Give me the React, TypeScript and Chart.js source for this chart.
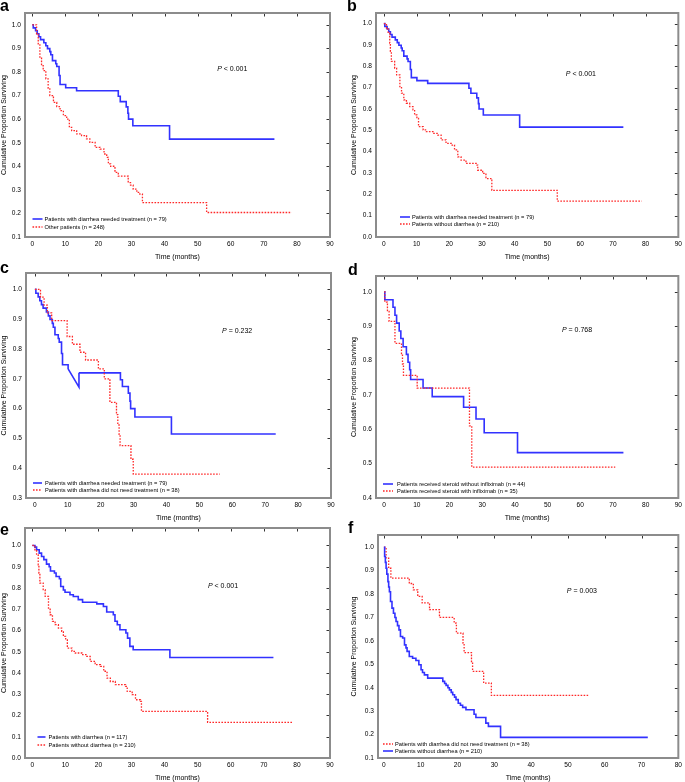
import React, { useEffect, useRef } from 'react';
import { Chart, registerables } from 'chart.js';

Chart.register(...registerables);

const FONT = '"Liberation Sans", Arial, Helvetica, sans-serif';

// ---------------- tick labels ----------------
const X_TICKS_90 = [0, 10, 20, 30, 40, 50, 60, 70, 80, 90];
const X_TICKS_80 = [0, 10, 20, 30, 40, 50, 60, 70, 80];
const Y_TICKS_01 = [0.1, 0.2, 0.3, 0.4, 0.5, 0.6, 0.7, 0.8, 0.9, 1.0];
const Y_TICKS_00 = [0.0, 0.1, 0.2, 0.3, 0.4, 0.5, 0.6, 0.7, 0.8, 0.9, 1.0];
const Y_TICKS_03 = [0.3, 0.4, 0.5, 0.6, 0.7, 0.8, 0.9, 1.0];
const Y_TICKS_04 = [0.4, 0.5, 0.6, 0.7, 0.8, 0.9, 1.0];

// ---------------- series (time in months, cumulative proportion surviving) ----------------
// Patients with diarrhea needed treatment (n = 79)
const NEEDED_T = [0, 0.3, 1.0, 1.5, 2.0, 2.5, 3.5, 4.1, 4.6, 5.3, 5.6, 6.1, 7.1, 7.4, 8.1, 8.4, 10.1, 13.4, 26.0, 26.6, 28.4, 28.9, 29.1, 30.4, 41.5, 73.2];
const NEEDED_S = [1.0, 0.987, 0.975, 0.962, 0.949, 0.937, 0.924, 0.911, 0.899, 0.886, 0.873, 0.848, 0.835, 0.823, 0.785, 0.747, 0.733, 0.72, 0.697, 0.674, 0.652, 0.625, 0.6, 0.572, 0.515, 0.515];
// panel c: drawn artefact of the same curve between 10 and 13.4 months
const C_DIAG_T = [10.1, 13.4, 13.4];
const C_DIAG_S = [0.733, 0.672, 0.72];

// Other patients (n = 248)
const OTHER_T = [0, 1.3, 1.8, 2.3, 2.8, 3.3, 4.1, 4.8, 5.3, 6.4, 7.4, 8.4, 9.4, 10.4, 11.2, 11.9, 13.4, 14.9, 16.4, 17.4, 19.0, 20.5, 21.7, 22.5, 23.0, 23.7, 25.0, 26.0, 29.0, 29.7, 30.5, 31.6, 32.5, 33.3, 52.7, 78.4];
const OTHER_S = [1.0, 0.962, 0.919, 0.863, 0.827, 0.806, 0.771, 0.732, 0.7, 0.671, 0.653, 0.636, 0.615, 0.6, 0.565, 0.551, 0.537, 0.53, 0.516, 0.501, 0.48, 0.473, 0.452, 0.438, 0.41, 0.4, 0.374, 0.358, 0.331, 0.32, 0.303, 0.289, 0.282, 0.246, 0.204, 0.204];

// Patients without diarrhea (n = 210)  (panels b, e)
const NODIAR_T = [0, 0.8, 1.3, 1.8, 2.0, 2.3, 3.3, 3.9, 4.9, 5.4, 6.1, 6.9, 7.9, 8.9, 9.4, 10.1, 10.6, 12.0, 13.0, 15.0, 16.5, 17.5, 19.0, 20.6, 21.6, 22.6, 23.6, 25.1, 28.2, 28.7, 30.2, 31.2, 32.7, 33.0, 53.0, 78.8];
const NODIAR_S = [1.0, 0.975, 0.956, 0.909, 0.87, 0.823, 0.792, 0.76, 0.705, 0.674, 0.643, 0.627, 0.611, 0.596, 0.572, 0.556, 0.517, 0.502, 0.494, 0.486, 0.478, 0.455, 0.439, 0.431, 0.408, 0.376, 0.36, 0.345, 0.337, 0.313, 0.298, 0.274, 0.266, 0.219, 0.168, 0.168];

// Patients with diarrhea did not need treatment (n = 38), panel c
const C_NOTNEEDED_T = [0, 1.7, 2.8, 3.8, 5.1, 9.8, 11.4, 13.7, 15.4, 19.3, 21.1, 22.8, 24.8, 25.2, 25.6, 25.9, 29.2, 29.9, 56.2];
const C_NOTNEEDED_S = [1.0, 0.974, 0.947, 0.921, 0.895, 0.842, 0.816, 0.789, 0.763, 0.733, 0.7, 0.621, 0.58, 0.545, 0.514, 0.476, 0.43, 0.38, 0.38];

// Patients received steroid without infliximab (n = 44)
const STEROID_T = [0, 0.2, 2.7, 3.3, 3.8, 4.6, 5.1, 5.8, 6.8, 7.3, 7.8, 8.1, 11.9, 14.7, 24.3, 28.1, 30.6, 40.8, 73.2];
const STEROID_S = [1.0, 0.977, 0.955, 0.932, 0.909, 0.886, 0.864, 0.84, 0.818, 0.795, 0.773, 0.745, 0.72, 0.695, 0.664, 0.63, 0.59, 0.532, 0.532];
// Patients received steroid with infliximab (n = 35)
const INFLIX_T = [0, 0.2, 1.0, 1.5, 3.3, 5.3, 5.6, 5.9, 10.1, 26.1, 26.8, 70.7];
const INFLIX_S = [1.0, 0.97, 0.943, 0.914, 0.85, 0.82, 0.79, 0.757, 0.72, 0.61, 0.49, 0.49];

// Patients with diarrhea (n = 117)
const DIAR_T = [0, 0.8, 1.3, 2.1, 2.8, 3.5, 4.3, 5.1, 5.5, 6.7, 7.2, 8.2, 8.6, 9.4, 9.9, 11.4, 12.4, 13.9, 15.2, 19.5, 21.5, 22.5, 24.5, 25.0, 25.7, 26.5, 28.3, 28.8, 29.5, 30.5, 41.6, 72.9];
const DIAR_S = [1.0, 0.992, 0.98, 0.964, 0.948, 0.933, 0.912, 0.9, 0.88, 0.87, 0.854, 0.843, 0.807, 0.79, 0.78, 0.768, 0.76, 0.745, 0.733, 0.725, 0.713, 0.687, 0.674, 0.643, 0.627, 0.603, 0.588, 0.564, 0.525, 0.509, 0.473, 0.473];

// panel f
const F_NOTNEEDED_T = [0, 0.6, 1.3, 1.9, 6.9, 8.0, 9.2, 10.4, 12.4, 15.1, 19.1, 19.7, 21.5, 21.8, 23.8, 24.1, 27.1, 29.2, 55.5];
const F_NOTNEEDED_S = [1.0, 0.953, 0.91, 0.868, 0.845, 0.818, 0.79, 0.762, 0.733, 0.7, 0.676, 0.633, 0.59, 0.55, 0.512, 0.47, 0.42, 0.367, 0.367];
const F_NODIAR_T = [0, 0.2, 0.4, 0.6, 0.8, 1.1, 1.3, 1.5, 1.8, 2.2, 2.6, 3.0, 3.3, 3.7, 4.1, 4.5, 5.1, 5.6, 6.0, 6.3, 6.9, 7.8, 8.7, 9.5, 10.1, 10.5, 11.0, 11.9, 16.0, 16.5, 16.9, 17.4, 17.8, 18.3, 18.7, 19.2, 19.6, 20.2, 20.8, 21.4, 22.3, 24.5, 25.0, 27.7, 28.4, 31.7, 71.7];
const F_NODIAR_S = [1.0, 0.96, 0.935, 0.91, 0.885, 0.853, 0.83, 0.81, 0.768, 0.74, 0.718, 0.7, 0.683, 0.665, 0.647, 0.619, 0.612, 0.583, 0.57, 0.555, 0.533, 0.526, 0.516, 0.498, 0.477, 0.465, 0.455, 0.441, 0.427, 0.418, 0.41, 0.4, 0.391, 0.38, 0.37, 0.36, 0.349, 0.334, 0.325, 0.316, 0.306, 0.287, 0.273, 0.249, 0.235, 0.188, 0.188];

// ---------------- texts ----------------
const LBL_NEEDED = 'Patients with diarrhea needed treatment (n = 79)';
const LBL_OTHER = 'Other patients (n = 248)';
const LBL_NODIAR = 'Patients without diarrhea (n = 210)';
const LBL_NOTNEEDED = 'Patients with diarrhea did not need treatment (n = 38)';
const LBL_STEROID = 'Patients received steroid without infliximab (n = 44)';
const LBL_INFLIX = 'Patients received steroid with infliximab (n = 35)';
const LBL_DIAR = 'Patients with diarrhea (n = 117)';
const P_VALUES = ['< 0.001', '< 0.001', '= 0.232', '= 0.768', '< 0.001', '= 0.003'];
const Y_TITLE = 'Cumulative Proportion Surviving';
const X_TITLE = 'Time (months)';

// ---------------- styles ----------------
type Kind = 'blue' | 'red';
function lineStyle(kind: Kind) {
  return kind === 'blue'
    ? { borderColor: 'rgb(50,50,255)', borderWidth: 1.6, borderDash: [] as number[] }
    : { borderColor: 'rgb(255,40,40)', borderWidth: 1.3, borderDash: [1.6, 1.4] };
}

type Series = { t: number[]; s: number[]; kind: Kind; stepped?: boolean };
type Panel = {
  id: string;
  cx: number; cw: number;
  frame: { left: number; right: number; top: number; bottom: number };
  x: [number, number]; y: [number, number];
  xTicks: number[]; yTicks: number[];
  yTitlePad: number;
  p: { text: string; x: number; y: number };
  leg: { x1: number; x2: number; tx: number; dy: number[] };
  legendItems: { label: string; kind: Kind }[];
  series: Series[];
  letter: [number, number];
};

const PAD_TOP = 8;
const X_AXIS_H = 28;

const cPart1 = NEEDED_T.map((t, i) => i).filter((i) => NEEDED_T[i] <= 10.1);
const cPart3 = NEEDED_T.map((t, i) => i).filter((i) => NEEDED_T[i] >= 13.4);

const PANELS: Panel[] = [
  {
    id: 'a', cx: 0, cw: 340,
    frame: { left: 25, right: 330, top: 13, bottom: 237 },
    x: [-2.2, 90], y: [0.1, 1.05], xTicks: X_TICKS_90, yTicks: Y_TICKS_01, yTitlePad: 0,
    p: { text: P_VALUES[0], x: 55.9, y: 0.814 },
    leg: { x1: 7.5, x2: 17.5, tx: 19.5, dy: [18, 10] },
    legendItems: [{ label: LBL_NEEDED, kind: 'blue' }, { label: LBL_OTHER, kind: 'red' }],
    series: [{ t: OTHER_T, s: OTHER_S, kind: 'red' }, { t: NEEDED_T, s: NEEDED_S, kind: 'blue' }],
    letter: [0, -1.6],
  },
  {
    id: 'b', cx: 340, cw: 345,
    frame: { left: 376, right: 680, top: 13, bottom: 237 },
    x: [-2.4, 90], y: [0, 1.05], xTicks: X_TICKS_90, yTicks: Y_TICKS_00, yTitlePad: 9.8,
    p: { text: P_VALUES[1], x: 55.6, y: 0.765 },
    leg: { x1: 24, x2: 34, tx: 36, dy: [20, 13] },
    legendItems: [{ label: LBL_NEEDED, kind: 'blue' }, { label: LBL_NODIAR, kind: 'red' }],
    series: [{ t: NODIAR_T, s: NODIAR_S, kind: 'red' }, { t: NEEDED_T, s: NEEDED_S, kind: 'blue' }],
    letter: [347, -1.6],
  },
  {
    id: 'c', cx: 0, cw: 340,
    frame: { left: 26, right: 331, top: 273, bottom: 498 },
    x: [-2.7, 90], y: [0.3, 1.055], xTicks: X_TICKS_90, yTicks: Y_TICKS_03, yTitlePad: 0,
    p: { text: P_VALUES[2], x: 56.9, y: 0.861 },
    leg: { x1: 7, x2: 16, tx: 19, dy: [15, 8] },
    legendItems: [{ label: LBL_NEEDED, kind: 'blue' }, { label: LBL_NOTNEEDED, kind: 'red' }],
    series: [
      { t: C_NOTNEEDED_T, s: C_NOTNEEDED_S, kind: 'red' },
      { t: cPart1.map((i) => NEEDED_T[i]), s: cPart1.map((i) => NEEDED_S[i]), kind: 'blue' },
      { t: C_DIAG_T, s: C_DIAG_S, kind: 'blue', stepped: false },
      { t: cPart3.map((i) => NEEDED_T[i]), s: cPart3.map((i) => NEEDED_S[i]), kind: 'blue' },
    ],
    letter: [0, 259.7],
  },
  {
    id: 'd', cx: 340, cw: 345,
    frame: { left: 376, right: 680, top: 276, bottom: 498 },
    x: [-2.5, 90], y: [0.4, 1.046], xTicks: X_TICKS_90, yTicks: Y_TICKS_04, yTitlePad: 9.8,
    p: { text: P_VALUES[3], x: 54.4, y: 0.889 },
    leg: { x1: 7, x2: 17, tx: 21, dy: [14, 7] },
    legendItems: [{ label: LBL_STEROID, kind: 'blue' }, { label: LBL_INFLIX, kind: 'red' }],
    series: [{ t: INFLIX_T, s: INFLIX_S, kind: 'red' }, { t: STEROID_T, s: STEROID_S, kind: 'blue' }],
    letter: [348, 261.7],
  },
  {
    id: 'e', cx: 0, cw: 340,
    frame: { left: 25, right: 330, top: 528, bottom: 758 },
    x: [-2.2, 90], y: [0, 1.082], xTicks: X_TICKS_90, yTicks: Y_TICKS_00, yTitlePad: 0,
    p: { text: P_VALUES[4], x: 53.1, y: 0.807 },
    leg: { x1: 12.5, x2: 20.5, tx: 23.5, dy: [21, 13] },
    legendItems: [{ label: LBL_DIAR, kind: 'blue' }, { label: LBL_NODIAR, kind: 'red' }],
    series: [{ t: NODIAR_T, s: NODIAR_S, kind: 'red' }, { t: DIAR_T, s: DIAR_S, kind: 'blue' }],
    letter: [0, 521.7],
  },
  {
    id: 'f', cx: 340, cw: 345,
    frame: { left: 378, right: 680, top: 535, bottom: 758 },
    x: [-1.6, 80], y: [0.1, 1.052], xTicks: X_TICKS_80, yTicks: Y_TICKS_01, yTitlePad: 9.8,
    p: { text: P_VALUES[5], x: 49.7, y: 0.811 },
    leg: { x1: 5, x2: 15, tx: 17, dy: [14, 7] },
    legendItems: [{ label: LBL_NOTNEEDED, kind: 'red' }, { label: LBL_NODIAR, kind: 'blue' }],
    series: [{ t: F_NODIAR_T, s: F_NODIAR_S, kind: 'blue' }, { t: F_NOTNEEDED_T, s: F_NOTNEEDED_S, kind: 'red' }],
    letter: [348, 520],
  },
];

const kmDecor = {
  id: 'kmDecor',
  afterDraw(chart: any, _args: any, o: any) {
    const { ctx } = chart;
    const { left, right, top, bottom } = chart.chartArea;
    const xs = chart.scales.x;
    const ys = chart.scales.y;
    ctx.save();
    // inner tick marks on top and right edges
    ctx.strokeStyle = '#333';
    ctx.lineWidth = 1;
    ctx.setLineDash([]);
    ctx.beginPath();
    xs.ticks.forEach((t: any) => {
      const px = Math.round(xs.getPixelForValue(t.value)) + 0.5;
      if (px > left + 2 && px < right - 2) {
        ctx.moveTo(px, top);
        ctx.lineTo(px, top + 3.5);
      }
    });
    ys.ticks.forEach((t: any) => {
      const py = Math.round(ys.getPixelForValue(t.value)) + 0.5;
      if (py > top + 2 && py < bottom - 2) {
        ctx.moveTo(right, py);
        ctx.lineTo(right - 3.5, py);
      }
    });
    ctx.stroke();
    // frame
    ctx.strokeStyle = '#8c8c8c';
    ctx.lineWidth = 2;
    ctx.strokeRect(left, top, right - left, bottom - top);
    // p value
    const px = xs.getPixelForValue(o.p.x);
    const py = ys.getPixelForValue(o.p.y);
    ctx.fillStyle = '#000';
    ctx.textBaseline = 'middle';
    ctx.textAlign = 'left';
    ctx.font = `italic 7px ${FONT}`;
    ctx.fillText('P', px, py);
    const w = ctx.measureText('P').width;
    ctx.font = `7px ${FONT}`;
    ctx.fillText(' ' + o.p.text, px + w, py);
    // legend
    o.items.forEach((it: any, i: number) => {
      const y = bottom - o.leg.dy[i];
      const st = lineStyle(it.kind);
      ctx.strokeStyle = st.borderColor;
      ctx.lineWidth = st.borderWidth;
      ctx.setLineDash(st.borderDash);
      ctx.beginPath();
      ctx.moveTo(left + o.leg.x1, y);
      ctx.lineTo(left + o.leg.x2, y);
      ctx.stroke();
      ctx.setLineDash([]);
      ctx.fillStyle = '#000';
      ctx.font = `5.7px ${FONT}`;
      ctx.fillText(it.label, left + o.leg.tx, y);
    });
    ctx.restore();
  },
};

function PanelChart({ cfg }: { cfg: Panel }) {
  const ref = useRef<HTMLCanvasElement>(null);
  const top = cfg.frame.top - PAD_TOP;
  const h = cfg.frame.bottom - cfg.frame.top + PAD_TOP + X_AXIS_H;
  useEffect(() => {
    const yW = cfg.frame.left - cfg.cx;
    const padR = cfg.cx + cfg.cw - cfg.frame.right;
    const chart = new Chart(ref.current as HTMLCanvasElement, {
      type: 'line',
      data: {
        datasets: cfg.series.map((sr) => ({
          data: sr.t.map((x, i) => ({ x, y: sr.s[i] })),
          stepped: sr.stepped === false ? false : 'before',
          ...lineStyle(sr.kind),
          pointRadius: 0,
          fill: false,
          tension: 0,
        })),
      } as any,
      options: {
        animation: false,
        responsive: true,
        maintainAspectRatio: false,
        layout: { padding: { left: 0, right: padR, top: PAD_TOP, bottom: 0 } },
        plugins: {
          legend: { display: false },
          tooltip: { enabled: false },
          kmDecor: { p: cfg.p, leg: cfg.leg, items: cfg.legendItems },
        } as any,
        scales: {
          x: {
            type: 'linear',
            min: cfg.x[0],
            max: cfg.x[1],
            afterBuildTicks: (s: any) => { s.ticks = cfg.xTicks.map((v) => ({ value: v })); },
            afterFit: (s: any) => { s.height = X_AXIS_H; },
            grid: { display: false, drawTicks: false },
            border: { display: false },
            ticks: {
              autoSkip: false, maxRotation: 0, minRotation: 0, padding: 3,
              color: '#000', font: { family: FONT, size: 6.6 },
              callback: (v: any) => String(v),
            },
            title: {
              display: true, text: X_TITLE, color: '#000',
              font: { family: FONT, size: 7 }, padding: { top: 0, bottom: 3.8 },
            },
          },
          y: {
            type: 'linear',
            min: cfg.y[0],
            max: cfg.y[1],
            afterBuildTicks: (s: any) => { s.ticks = cfg.yTicks.map((v) => ({ value: v })); },
            afterFit: (s: any) => { s.width = yW; },
            grid: { display: false, drawTicks: false },
            border: { display: false },
            ticks: {
              autoSkip: false, padding: 4,
              color: '#000', font: { family: FONT, size: 6.6 },
              callback: (v: any) => Number(v).toFixed(1),
            },
            title: {
              display: true, text: Y_TITLE, color: '#000',
              font: { family: FONT, size: 7 }, padding: { top: cfg.yTitlePad, bottom: 0 },
            },
          },
        } as any,
      },
      plugins: [kmDecor],
    } as any);
    return () => chart.destroy();
  }, [cfg]);
  return (
    <>
      <div style={{ position: 'absolute', left: cfg.cx, top, width: cfg.cw, height: h }}>
        <canvas ref={ref} />
      </div>
      <div
        style={{
          position: 'absolute', left: cfg.letter[0], top: cfg.letter[1],
          font: `bold 16px ${FONT}`, lineHeight: '16px', color: '#000',
        }}
      >
        {cfg.id}
      </div>
    </>
  );
}

export default function App() {
  return (
    <div
      style={{
        position: 'absolute', left: 0, top: 0, width: 685, height: 782,
        overflow: 'hidden', background: '#fff',
      }}
    >
      {PANELS.map((p) => (
        <PanelChart key={p.id} cfg={p} />
      ))}
    </div>
  );
}
